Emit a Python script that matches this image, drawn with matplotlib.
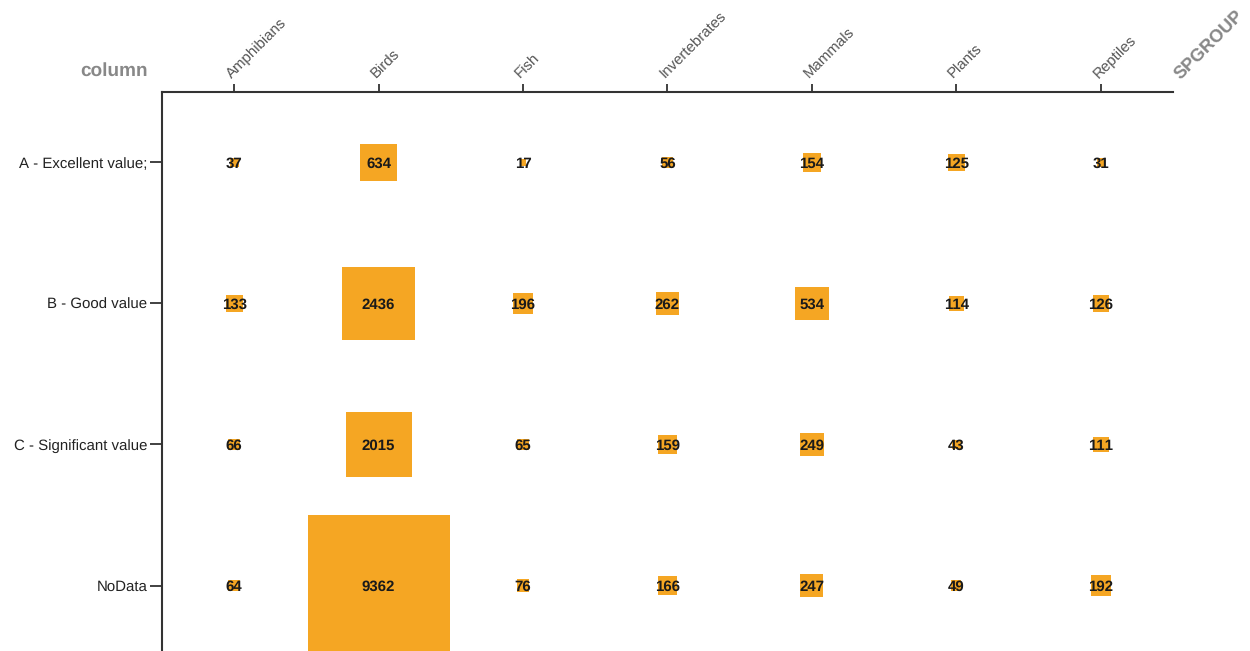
import numpy as np
import matplotlib
matplotlib.use('Agg')
import matplotlib.pyplot as plt

plt.rcParams['font.family'] = ['Liberation Sans', 'DejaVu Sans']
plt.rcParams['text.hinting'] = 'no_hinting'
plt.rcParams['text.hinting_factor'] = 1

# data
columns = ['Amphibians', 'Birds', 'Fish', 'Invertebrates', 'Mammals', 'Plants', 'Reptiles']
rows = ['A - Excellent value;', 'B - Good value', 'C - Significant value', 'NoData']
vals_a = [37, 634, 17, 56, 154, 125, 31]
vals_b = [133, 2436, 196, 262, 534, 114, 126]
vals_c = [66, 2015, 65, 159, 249, 43, 111]
vals_nodata = [64, 9362, 76, 166, 247, 49, 192]

values = np.array([vals_a, vals_b, vals_c, vals_nodata])

W, H, DPI = 1250, 651, 100
fig = plt.figure(figsize=(W / DPI, H / DPI), dpi=DPI)

# axes box in pixels: left 162, right 1173, top 92, bottom 656 (past the figure)
ax = fig.add_axes([162 / W, 1 - 656 / H, (1173 - 162) / W, (656 - 92) / H])
ax.set_xlim(-0.5, len(columns) - 0.5)
ax.set_ylim(len(rows) - 0.5, -0.5)

# square side proportional to sqrt(value), largest ~142 px
max_side_pt = 142 * 72 / DPI
xx, yy = np.meshgrid(np.arange(len(columns)), np.arange(len(rows)))
sizes = (max_side_pt * np.sqrt(values / values.max())) ** 2
ax.scatter(xx.ravel(), yy.ravel(), s=sizes.ravel(), marker='s',
           color='#f5a623', linewidths=0, zorder=2)

for i in range(len(rows)):
    for j in range(len(columns)):
        ax.text(j, i, str(values[i, j]), ha='center', va='center_baseline',
                fontsize=10.5, fontweight='bold', color='#1a1a1a', zorder=3)

for side in ['right', 'bottom']:
    ax.spines[side].set_visible(False)
for side in ['top', 'left']:
    ax.spines[side].set_color('#333333')
    ax.spines[side].set_linewidth(1.5)

ax.xaxis.tick_top()
ax.set_xticks(range(len(columns)))
ax.set_xticklabels(columns, rotation=45, ha='left', va='bottom',
                   rotation_mode='anchor', fontsize=10.8, color='#555555')
ax.set_yticks(range(len(rows)))
ax.set_yticklabels(rows, fontsize=10.8, color='#222222')
ax.tick_params(axis='x', length=6, width=1.3, color='#333333', pad=2)
ax.tick_params(axis='y', length=9, width=1.3, color='#333333', pad=1.5)

fig.text(114 / W, 1 - 71 / H, 'column', ha='center', va='center',
         fontsize=13.7, fontweight='bold', color='#888888')
fig.text(1180 / W, 1 - 80 / H, 'SPGROUP', ha='left', va='baseline',
         rotation=45, rotation_mode='anchor', fontsize=12.8,
         fontweight='bold', color='#888888')

fig.savefig('out.png', dpi=DPI)
